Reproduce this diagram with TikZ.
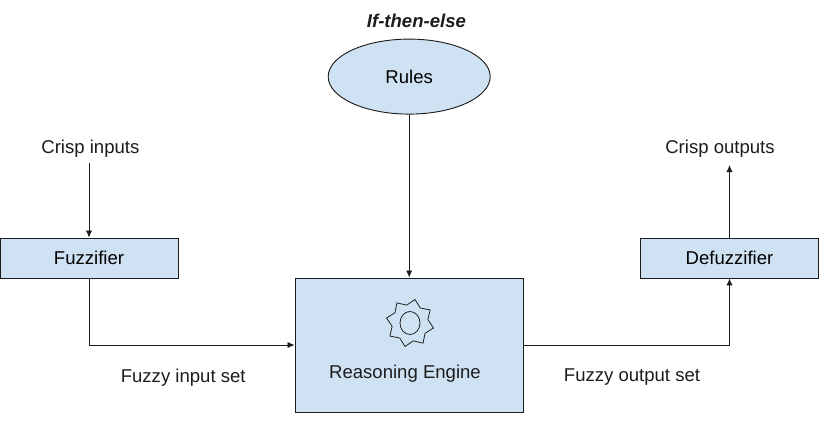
\documentclass[tikz,border=0pt]{standalone}
\usepackage{fontspec}
\setmainfont{Liberation Sans}
\usetikzlibrary{shapes.geometric,arrows.meta}
\definecolor{boxblue}{HTML}{CFE2F3}
\definecolor{inkgray}{HTML}{1C1C1C}
\tikzset{
  block/.style={draw=inkgray,fill=boxblue,line width=0.65pt,inner sep=0pt,font=\fontsize{13.2}{15}\selectfont},
  label/.style={inner sep=0pt,text=inkgray,font=\fontsize{13.2}{15}\selectfont},
  link/.style={draw=inkgray,line width=0.65pt,-{Latex[length=5pt,width=4.5pt]}}
}
\begin{document}
\begin{tikzpicture}
  \useasboundingbox (0,0) rectangle (20.525,10.525);
  \node[block,ellipse,minimum width=4.05cm,minimum height=1.875cm] (rules) at (10.23,8.61) {Rules};
  \node[block,minimum width=4.45cm,minimum height=1cm] (fuzzifier) at (2.225,4.075) {Fuzzifier};
  \node[block,minimum width=4.45cm,minimum height=1cm] (defuzzifier) at (18.2375,4.075) {Defuzzifier};
  \node[block,minimum width=5.71cm,minimum height=3.35cm] (engine) at (10.23,1.9) {};
  \node[star,star points=8,star point ratio=1.32,rotate=-12,draw=inkgray,line width=0.55pt,minimum size=1.2cm,inner sep=0pt] (gear) at (10.25,2.45) {};
  \node[ellipse,draw=inkgray,line width=0.55pt,minimum width=0.5cm,minimum height=0.575cm,inner sep=0pt] (hub) at (10.25,2.45) {};
  \node[label] (enginetext) at (10.125,1.18) {Reasoning Engine};
  \node[label,font=\fontsize{13.2}{15}\selectfont\bfseries\itshape] (rulestitle) at (10.41,10) {If-then-else};
  \node[label] (crispin) at (2.26,6.8) {Crisp inputs};
  \node[label] (crispout) at (18,6.8) {Crisp outputs};
  \node[label] (fuzzyin) at (4.58,1.09) {Fuzzy input set};
  \node[label] (fuzzyout) at (15.8,1.09) {Fuzzy output set};
  \coordinate (instart) at (2.225,6.45);
  \coordinate (outend) at (18.2375,6.4);
  \draw[link] (instart) -- (fuzzifier);
  \draw[link] (rules) -- (engine);
  \draw[link] (fuzzifier) |- (engine);
  \draw[link] (engine) -| (defuzzifier);
  \draw[link] (defuzzifier) -- (outend);
\end{tikzpicture}
\end{document}
